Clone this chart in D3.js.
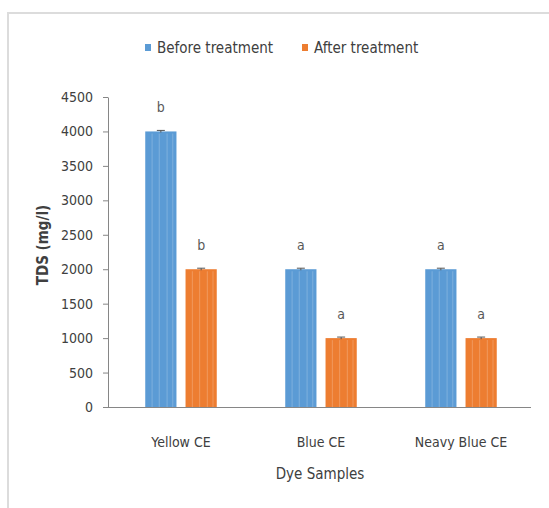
<!DOCTYPE html>
<html>
<head>
<meta charset="utf-8">
<script src="https://cdn.jsdelivr.net/npm/d3@7"></script>
<style>
  html, body { margin: 0; padding: 0; background: #fff; }
  svg text { font-family: "DejaVu Sans Condensed", "Liberation Sans", sans-serif; fill: #404040; }
</style>
</head>
<body>
<svg id="chart" width="549" height="508"></svg>
<script>
// Total dissolved solids per dye sample, before and after treatment
const categories = ["Yellow CE", "Blue CE", "Neavy Blue CE"];
const seriesNames = ["Before treatment", "After treatment"];
const beforeValues = [4000, 2000, 2000];
const afterValues = [2000, 1000, 1000];
const beforeErrors = [15, 15, 15];
const afterErrors = [15, 15, 15];
const beforeLetters = ["b", "a", "a"];
const afterLetters = ["b", "a", "a"];
const yTicks = [0, 500, 1000, 1500, 2000, 2500, 3000, 3500, 4000, 4500];

const colors = { "Before treatment": "#5b9bd5", "After treatment": "#ed7d31" };

const rows = categories.map((c, i) => ({
  category: c,
  bars: [
    { series: seriesNames[0], value: beforeValues[i], err: beforeErrors[i], letter: beforeLetters[i] },
    { series: seriesNames[1], value: afterValues[i], err: afterErrors[i], letter: afterLetters[i] }
  ]
}));

const svg = d3.select("#chart");

// chart-area frame
svg.append("path")
  .attr("d", "M8,508 V13 H549")
  .attr("fill", "none")
  .attr("stroke", "#dcdcdc")
  .attr("stroke-width", 2);

const plotLeft = 108, plotRight = 531, plotTop = 97, plotBottom = 407;

const x = d3.scaleBand().domain(categories).range([111, plotRight]).paddingInner(0).paddingOuter(0);
const xs = d3.scaleBand().domain(seriesNames).range([0, x.bandwidth()]).paddingInner(0.225).paddingOuter(0.85);
const y = d3.scaleLinear().domain([0, 4500]).range([plotBottom, plotTop]);

// bars
const groups = svg.append("g").selectAll("g")
  .data(rows).join("g")
  .attr("transform", d => `translate(${x(d.category)},0)`);

groups.selectAll("rect")
  .data(d => d.bars).join("rect")
  .attr("x", d => xs(d.series))
  .attr("y", d => y(d.value))
  .attr("width", xs.bandwidth())
  .attr("height", d => y(0) - y(d.value))
  .attr("fill", d => colors[d.series]);

// faint vertical streaks inside the bars
groups.selectAll("g.streaks")
  .data(d => d.bars).join("g")
  .attr("class", "streaks")
  .each(function (d) {
    const g = d3.select(this);
    const x0 = xs(d.series), w = xs.bandwidth();
    [0.22, 0.45, 0.7, 0.88].forEach(f => {
      g.append("line")
        .attr("x1", x0 + w * f).attr("x2", x0 + w * f)
        .attr("y1", y(d.value) + 2).attr("y2", y(0))
        .attr("stroke", "#ffffff").attr("stroke-opacity", 0.18).attr("stroke-width", 1.2);
    });
  });

// error bars
groups.selectAll("g.err")
  .data(d => d.bars).join("g")
  .attr("class", "err")
  .each(function (d) {
    const g = d3.select(this);
    const cx = xs(d.series) + xs.bandwidth() / 2;
    g.append("line").attr("x1", cx).attr("x2", cx)
      .attr("y1", y(d.value + d.err)).attr("y2", y(d.value - d.err))
      .attr("stroke", "#555").attr("stroke-width", 1);
    g.append("line").attr("x1", cx - 4).attr("x2", cx + 4)
      .attr("y1", y(d.value + d.err)).attr("y2", y(d.value + d.err))
      .attr("stroke", "#555").attr("stroke-width", 1);
  });

// significance letters
groups.selectAll("text.letter")
  .data(d => d.bars).join("text")
  .attr("class", "letter")
  .attr("x", d => xs(d.series) + xs.bandwidth() / 2)
  .attr("y", d => y(d.value) - 19)
  .attr("text-anchor", "middle")
  .attr("font-size", 14)
  .style("fill", "#595959")
  .text(d => d.letter);

// y axis
const yAxis = svg.append("g")
  .attr("transform", `translate(${plotLeft},0)`)
  .call(d3.axisLeft(y).tickValues(yTicks).tickSize(5).tickSizeOuter(0).tickPadding(10).tickFormat(d3.format("d")));
yAxis.select(".domain").attr("stroke", "#868686");
yAxis.selectAll(".tick line").attr("stroke", "#868686");
yAxis.selectAll("text").attr("font-size", 14).style("fill", "#404040");

// x axis
const xAxis = svg.append("g")
  .attr("transform", `translate(0,${plotBottom})`)
  .call(d3.axisBottom(x).tickSize(0).tickPadding(30));
xAxis.select(".domain").attr("stroke", "#868686").attr("d", `M${plotLeft - 5},0.5H${plotRight}`);
xAxis.selectAll("text").attr("font-size", 14).style("fill", "#404040");

// axis titles
svg.append("text")
  .attr("transform", `translate(48,245) rotate(-90)`)
  .attr("text-anchor", "middle")
  .attr("font-size", 15)
  .attr("font-weight", "bold")
  .style("fill", "#404040")
  .text("TDS (mg/l)");

svg.append("text")
  .attr("x", 320)
  .attr("y", 479)
  .attr("text-anchor", "middle")
  .attr("font-size", 15)
  .style("fill", "#404040")
  .text("Dye Samples");

// legend
const legend = svg.append("g").selectAll("g")
  .data(seriesNames).join("g")
  .attr("transform", (d, i) => `translate(${i === 0 ? 145 : 302},0)`);
legend.append("rect")
  .attr("x", 0).attr("y", 44).attr("width", 6).attr("height", 7)
  .attr("fill", d => colors[d]);
legend.append("text")
  .attr("x", 12).attr("y", 53)
  .attr("font-size", 15)
  .style("fill", "#404040")
  .text(d => d);
</script>
</body>
</html>
